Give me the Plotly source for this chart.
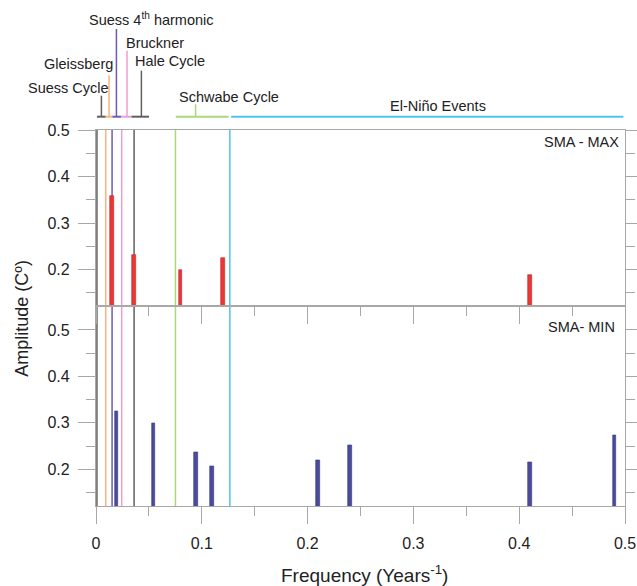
import plotly.graph_objects as go

# ---- data ----
max_freq = [0.0152, 0.036, 0.0798, 0.1199, 0.410]
max_amp = [0.358, 0.231, 0.198, 0.225, 0.188]
min_freq = [0.0193, 0.0543, 0.0943, 0.110, 0.210, 0.240, 0.410, 0.490]
min_amp = [0.325, 0.299, 0.236, 0.207, 0.219, 0.252, 0.216, 0.274]

cycle_names = ["Suess Cycle", "Gleissberg", "Suess 4<sup>th</sup> harmonic", "Bruckner", "Hale Cycle", "Schwabe Cycle", "El-Niño Events"]
cycle_line_freq = [0.0009, 0.0092, 0.0152, 0.0243, 0.036, 0.0751, 0.1265]
cycle_colors = ["#606060", "#f7b47c", "#6e5bb0", "#f09ed0", "#606060", "#a9d877", "#4fc3ef"]

x_ticks = [0, 0.1, 0.2, 0.3, 0.4, 0.5]
x_tick_labels = ["0", "0.1", "0.2", "0.3", "0.4", "0.5"]
y_ticks = [0.2, 0.3, 0.4, 0.5]
y_tick_labels = ["0.2", "0.3", "0.4", "0.5"]

# ---- layout geometry helpers (page pixels -> paper) ----
W, H = 637, 586
L, R, T, B = 96, 625, 130, 506
def px(p):
    return (p - L) / (R - L)
def py(p):
    return (B - p) / (B - T)

FONT = "Liberation Sans, Arial, sans-serif"
TXT = "#222222"
AX = "#a8a8a8"

fig = go.Figure()
fig.add_trace(go.Bar(x=max_freq, y=max_amp, width=0.0036, xaxis="x", yaxis="y",
                     marker=dict(color="#ee3535", line=dict(color="#b82828", width=0.6)), showlegend=False))
fig.add_trace(go.Bar(x=min_freq, y=min_amp, width=0.0036, xaxis="x2", yaxis="y2",
                     marker=dict(color="#4b4b9d", line=dict(color="#363680", width=0.6)), showlegend=False))

split = py(306.3)
common_x = dict(range=[0, 0.5], tickvals=x_ticks, ticks="outside", ticklen=17, tickcolor=AX,
                tickwidth=1.2, showline=True, linecolor=AX, linewidth=1.2, mirror=True,
                showgrid=False, zeroline=False, automargin=False,
                minor=dict(dtick=0.05, tick0=0, ticklen=9, tickcolor=AX, ticks="outside", showgrid=False))
common_y = dict(tickvals=y_ticks, ticktext=y_tick_labels, ticks="outside", ticklen=17, tickcolor=AX,
                tickwidth=1.2, showline=True, linecolor=AX, linewidth=1.2, mirror="ticks",
                showgrid=False, zeroline=False, automargin=False, ticklabelstandoff=5,
                tickfont=dict(family=FONT, size=16, color=TXT),
                minor=dict(tickvals=[0.15, 0.25, 0.35, 0.45], ticklen=9, tickcolor=AX, ticks="outside", showgrid=False))

fig.update_layout(
    width=W, height=H,
    margin=dict(l=L, r=W - R, t=T, b=H - B, autoexpand=False),
    plot_bgcolor="white", paper_bgcolor="white",
    bargap=0,
    xaxis=dict(common_x, anchor="y", showticklabels=False, domain=[0, 1]),
    xaxis2=dict(common_x, anchor="y2", ticktext=x_tick_labels, showticklabels=True, domain=[0, 1],
                ticklabelstandoff=6, tickfont=dict(family=FONT, size=16, color=TXT)),
    yaxis=dict(common_y, domain=[split, 1], range=[0.121, 0.5], anchor="x"),
    yaxis2=dict(common_y, domain=[0, split], range=[0.121, 0.551], anchor="x2"),
    font=dict(family=FONT, color=TXT),
)

shapes = []
# vertical cycle lines across both panels
for f, c in zip(cycle_line_freq, cycle_colors):
    shapes.append(dict(type="line", xref="x", yref="paper", x0=f, x1=f, y0=0, y1=1,
                       line=dict(color=c, width=1.5), layer="below"))

# bracket decorations above the plot
yb = py(116.7)
seg_bounds = [0.0009, 0.0092, 0.0155, 0.024, 0.0335, 0.0501]
seg_colors = ["#606060", "#f7b47c", "#6e5bb0", "#f09ed0", "#606060"]
stem_x = [0.0051, 0.0123, 0.0193, 0.0293, 0.0429]
stem_top = [95.7, 75.3, 29.0, 50.7, 70.7]
for i, c in enumerate(seg_colors):
    shapes.append(dict(type="line", xref="x", yref="paper", x0=seg_bounds[i], x1=seg_bounds[i + 1],
                       y0=yb, y1=yb, line=dict(color=c, width=2)))
    shapes.append(dict(type="line", xref="x", yref="paper", x0=stem_x[i], x1=stem_x[i],
                       y0=yb, y1=py(stem_top[i]), line=dict(color=c, width=1.5)))
# Schwabe
shapes.append(dict(type="line", xref="x", yref="paper", x0=0.0754, x1=0.1252, y0=yb, y1=yb,
                   line=dict(color="#a9d877", width=2)))
shapes.append(dict(type="line", xref="x", yref="paper", x0=0.0941, x1=0.0941, y0=yb, y1=py(104.3),
                   line=dict(color="#a9d877", width=1.5)))
# El Nino
shapes.append(dict(type="line", xref="x", yref="paper", x0=0.1277, x1=0.4985, y0=yb, y1=yb,
                   line=dict(color="#4fc3ef", width=2)))
fig.update_layout(shapes=shapes)

anns = []
label_pos = [(25.7, 88.0), (42.0, 64.0), (87.0, 19.0), (124.0, 42.7), (133.0, 61.0), (176.7, 97.3), (388.0, 105.7)]
for name, (lx, ly) in zip(cycle_names, label_pos):
    anns.append(dict(text=name, xref="paper", yref="paper", x=px(lx), y=py(ly), xanchor="left",
                     yanchor="middle", showarrow=False, font=dict(family=FONT, size=14.5, color=TXT)))
anns.append(dict(text="SMA - MAX", xref="paper", yref="paper", x=px(620.7), y=py(142.3), xanchor="right",
                 yanchor="middle", showarrow=False, font=dict(family=FONT, size=14.5, color=TXT)))
anns.append(dict(text="SMA- MIN", xref="paper", yref="paper", x=px(616.7), y=py(326.7), xanchor="right",
                 yanchor="middle", showarrow=False, font=dict(family=FONT, size=14.5, color=TXT)))
anns.append(dict(text="Amplitude (Cº)", xref="paper", yref="paper", x=px(21.7), y=py(318), textangle=-90,
                 xanchor="center", yanchor="middle", showarrow=False, font=dict(family=FONT, size=18, color=TXT)))
anns.append(dict(text="Frequency (Years<sup>-1</sup>)", xref="paper", yref="paper", x=px(364), y=py(574),
                 xanchor="center", yanchor="middle", showarrow=False, font=dict(family=FONT, size=19, color=TXT)))
fig.update_layout(annotations=anns)

fig.write_html("out.html", config={"displayModeBar": False},
               post_script="document.body.style.margin='0';document.body.style.overflow='hidden';")
